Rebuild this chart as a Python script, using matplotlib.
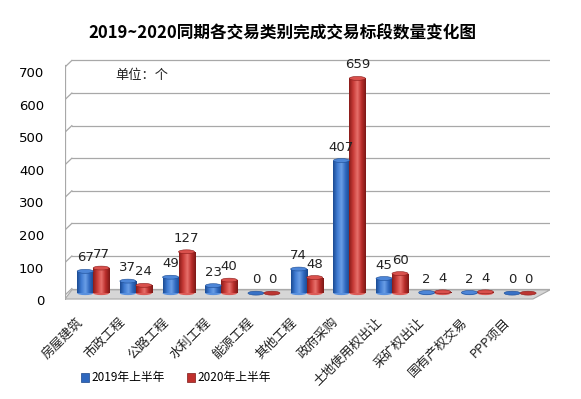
import matplotlib.pyplot as plt
import numpy as np
from matplotlib.patches import Rectangle, Ellipse, Polygon, Patch
from matplotlib.colors import LinearSegmentedColormap
import matplotlib.transforms as mtransforms

plt.rcParams['font.family'] = ['Noto Sans CJK SC', 'DejaVu Sans']

# 数据
categories = ['房屋建筑', '市政工程', '公路工程', '水利工程', '能源工程', '其他工程',
              '政府采购', '土地使用权出让', '采矿权出让', '国有产权交易', 'PPP项目']
values_2019 = [67, 37, 49, 23, 0, 74, 407, 45, 2, 2, 0]
values_2020 = [77, 24, 127, 40, 0, 48, 659, 60, 4, 4, 0]
series_names = ['2019年上半年', '2020年上半年']
yticks = [0, 100, 200, 300, 400, 500, 600, 700]

blue_cmap = LinearSegmentedColormap.from_list('b', ['#1B4B93', '#3F7BD2', '#6A9EE6', '#2E67BE', '#1A468A'])
red_cmap = LinearSegmentedColormap.from_list('r', ['#8A1C1A', '#C93C38', '#E8706B', '#B92D2A', '#7C1917'])
blue_top = '#4D86D8'
red_top = '#D9504C'

fig = plt.figure(figsize=(5.81, 3.99), dpi=100)
ax = fig.add_axes([65 / 581, 1 - 300 / 399, (550 - 65) / 581, (300 - 52) / 399])
ax.set_xlim(-0.66, 10.7)
ax.set_ylim(-21, 740)

x = np.arange(len(categories))
width = 0.375
grad = np.linspace(0, 1, 64).reshape(1, -1)


def draw_bars(xs, vals, cmap, topc):
    for xi, v in zip(xs, vals):
        left = xi - width / 2
        if v > 0:
            rect = Rectangle((left, 0), width, v, facecolor='none', edgecolor='none')
            ax.add_patch(rect)
            im = ax.imshow(grad, cmap=cmap, aspect='auto', extent=(left, left + width, 0, v), zorder=3)
            im.set_clip_path(rect)
            ax.add_patch(Ellipse((xi, 0), width, 12, facecolor=cmap(0.4), edgecolor='none', zorder=2.9))
        ax.add_patch(Ellipse((xi, v), width, 12, facecolor=topc if v > 0 else cmap(0.2),
                             edgecolor=cmap(0.0), lw=0.4, zorder=4))
        ax.annotate(str(v), (xi, v), xytext=(0, 5), textcoords='offset points',
                    ha='center', va='bottom', fontsize=9.5, color='#222222',
                    family=['DejaVu Sans'], zorder=5)


# 背景网格（仿三维）
for t in yticks:
    ax.plot([-0.66, -0.5], [t - 6, t + 14], color='#A8A8A8', lw=0.9, zorder=1)
    ax.plot([-0.5, 10.7], [t + 14, t + 14], color='#A8A8A8', lw=0.9, zorder=1)
ax.plot([-0.66, -0.66], [-18, 700], color='#A8A8A8', lw=0.9, zorder=1)

# 底面
floor = Polygon([(-0.66, -18), (10.3, -18), (10.7, 10), (-0.5, 10)],
                closed=True, facecolor='#D6D6D6', edgecolor='#A8A8A8', lw=0.8, zorder=1.5)
ax.add_patch(floor)

draw_bars(x - 0.187, values_2019, blue_cmap, blue_top)
draw_bars(x + 0.187, values_2020, red_cmap, red_top)

for s in ax.spines.values():
    s.set_visible(False)

ax.set_yticks(yticks)
ax.set_yticklabels([str(t) for t in yticks], fontsize=9.5, family=['DejaVu Sans'])
ax.tick_params(axis='y', length=0, pad=15)
offset = mtransforms.ScaledTranslation(0, -7 / 100, fig.dpi_scale_trans)
for lbl in ax.get_yticklabels():
    lbl.set_transform(lbl.get_transform() + offset)

ax.set_xticks([])
for xi, name in zip(x, categories):
    ax.text(xi - 0.4, -68, name, rotation=45, rotation_mode='anchor', ha='right', va='top',
            fontsize=9.3, color='#222222', family=['Noto Sans CJK SC', 'DejaVu Sans'])

fig.text(282 / 581, 1 - 33 / 399, '2019~2020同期各交易类别完成交易标段数量变化图',
         ha='center', va='center', fontsize=12, fontweight='bold')
fig.text(115 / 581, 1 - 75 / 399, '单位：个', ha='left', va='center', fontsize=9.5, color='#222222')

handles = [Patch(facecolor='#2E67BE', edgecolor='#1A468A', lw=0.5),
           Patch(facecolor='#C0302D', edgecolor='#7C1917', lw=0.5)]
fig.legend(handles, series_names, loc='center left', bbox_to_anchor=(70 / 581, 1 - 378 / 399),
           ncol=2, frameon=False, fontsize=8.5, handlelength=0.7, handleheight=0.7,
           handletextpad=0.2, columnspacing=1.9)

fig.savefig('out.png', dpi=100)
